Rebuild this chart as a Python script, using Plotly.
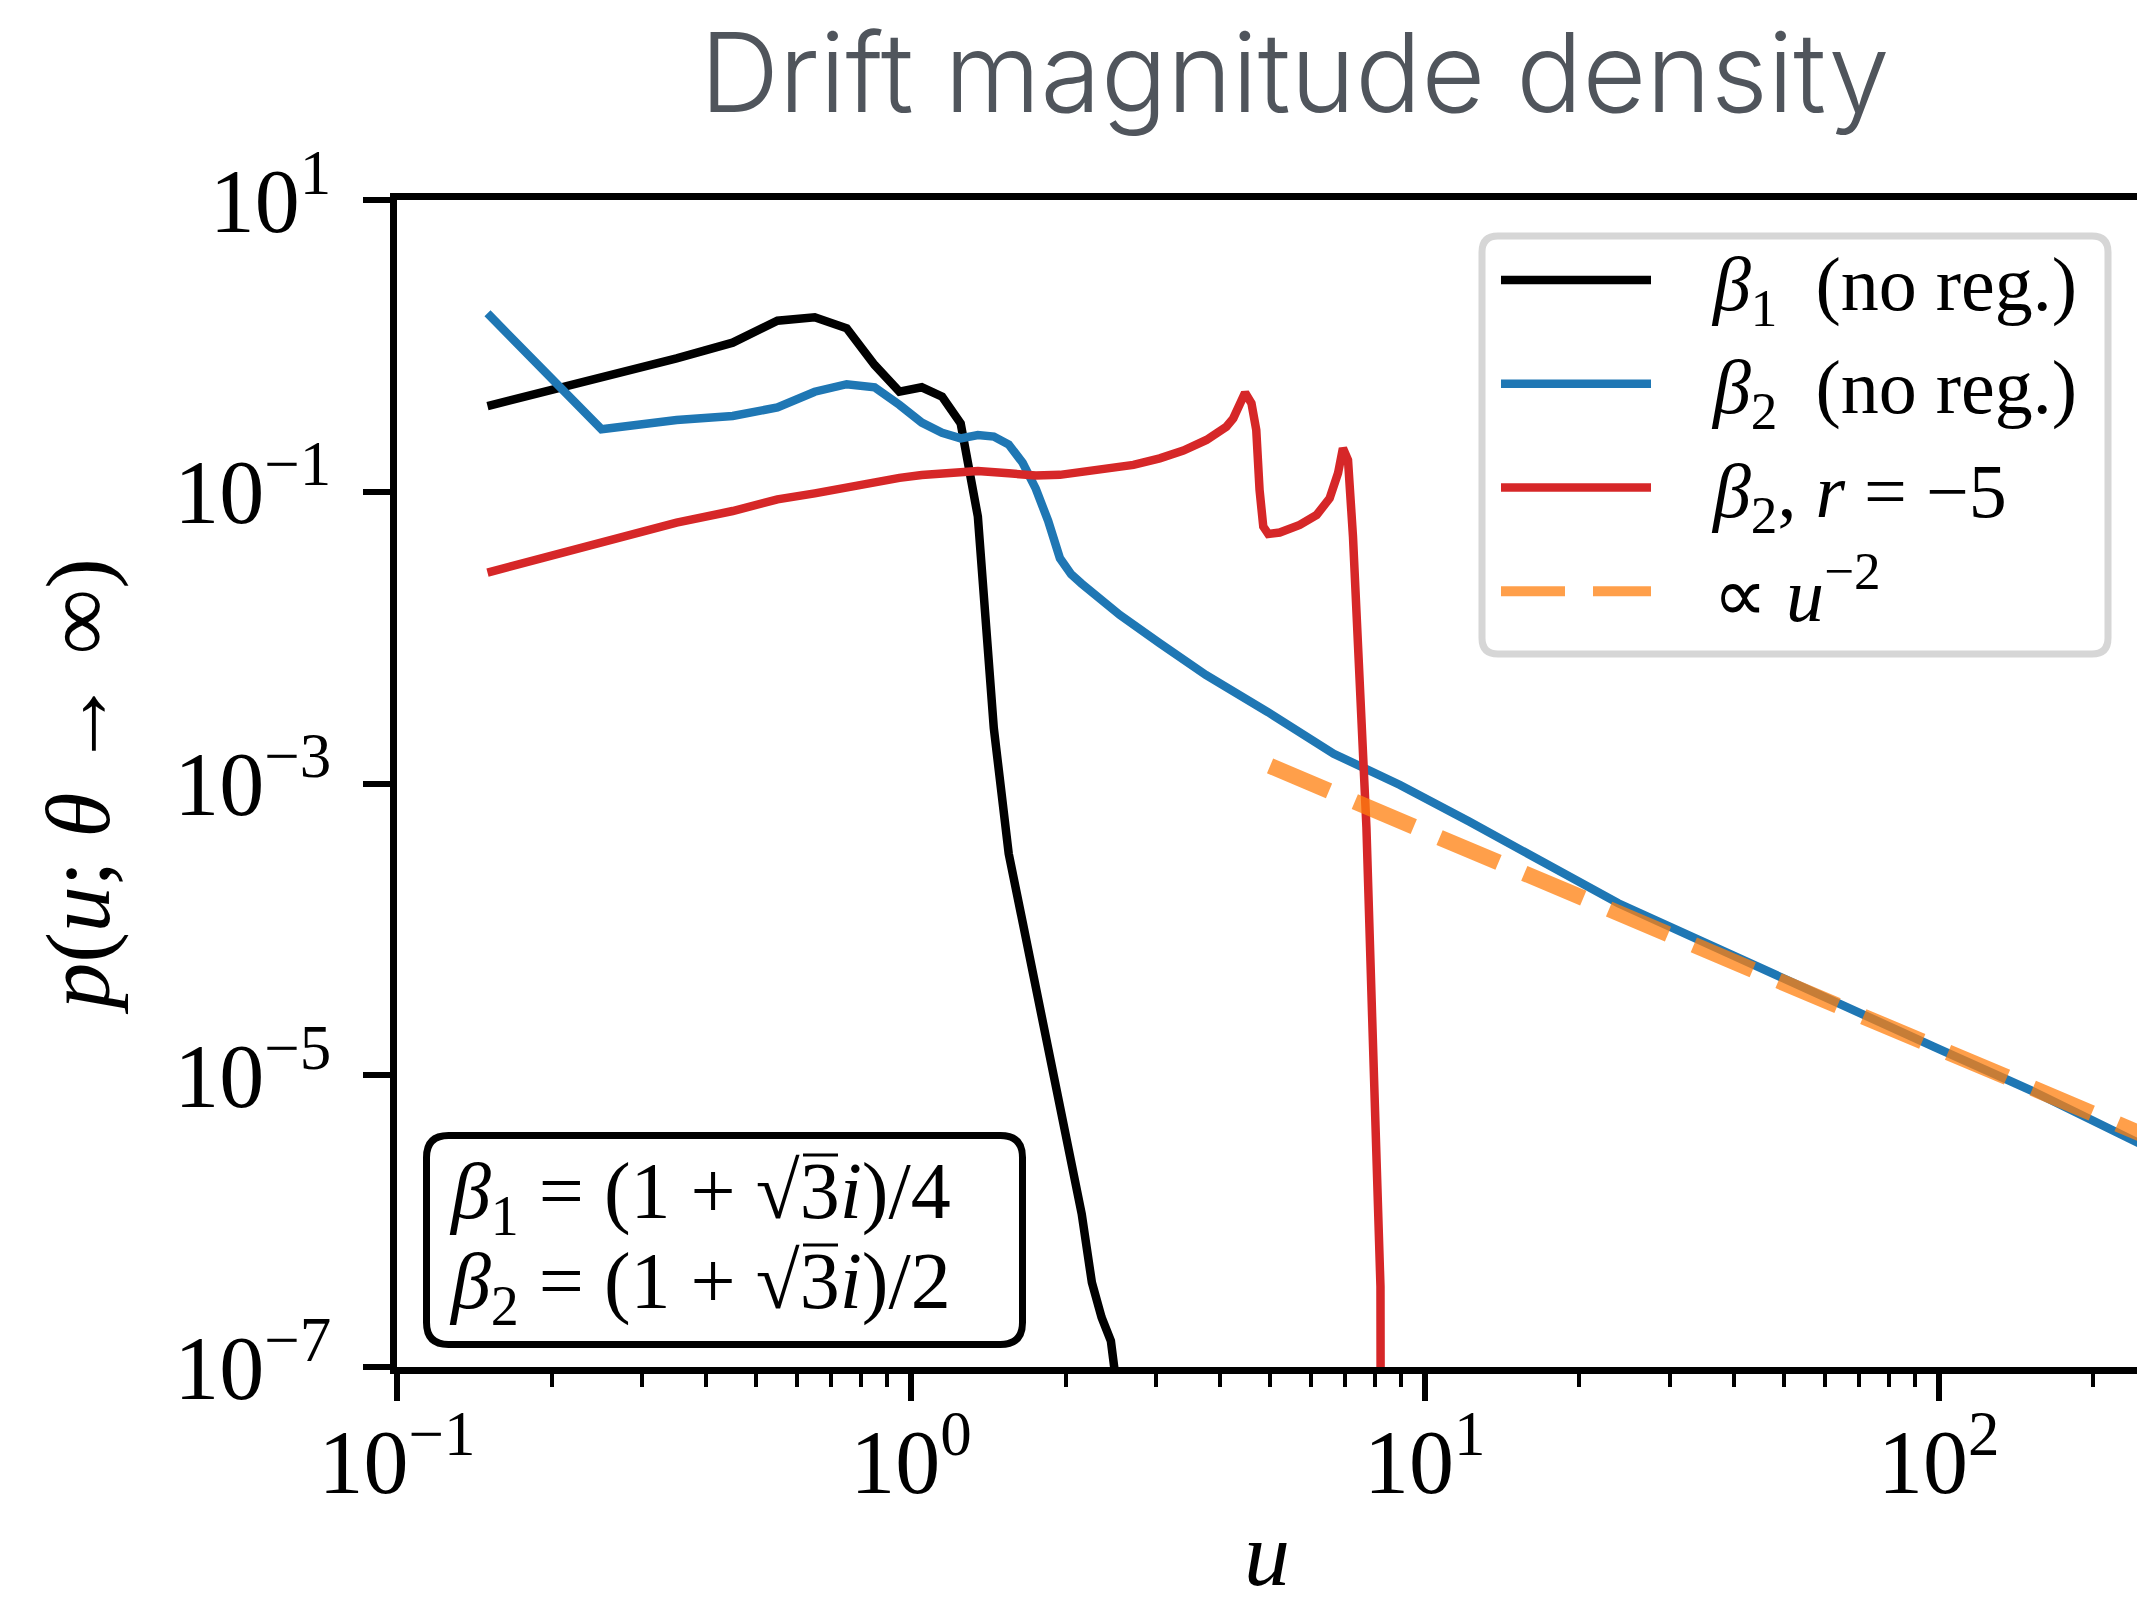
import plotly.graph_objects as go

# ---------------- data ----------------
u_black = [0.15, 0.25, 0.35, 0.45, 0.55, 0.65, 0.75, 0.85, 0.95, 1.05, 1.15, 1.25, 1.35,
           1.45, 1.55, 1.65, 1.75, 1.85, 1.95, 2.05, 2.15, 2.25, 2.35, 2.45, 2.55]
p_black = [0.387, 0.603, 0.822, 1.052, 1.489, 1.570, 1.321, 0.740, 0.485, 0.520, 0.449, 0.294, 0.0676,
           2.40e-3, 3.31e-4, 1.12e-4, 4.17e-5, 1.58e-5, 6.3e-6, 2.63e-6, 1.12e-6, 3.8e-7, 2.19e-7, 1.51e-7, 5.0e-8]

u_blue = [0.15, 0.25, 0.35, 0.45, 0.55, 0.65, 0.75, 0.85, 0.95, 1.05, 1.15, 1.25, 1.35, 1.45, 1.55,
          1.65, 1.75, 1.85, 1.95, 2.05, 2.15, 2.25, 2.55, 3.05, 3.75, 4.95, 6.65, 8.95, 12.2, 23.8,
          34.3, 44.0, 54.0, 69.4, 97.5, 152.6, 250.0]
p_blue = [1.671, 0.268, 0.310, 0.331, 0.378, 0.485, 0.546, 0.520, 0.394, 0.298, 0.254, 0.232, 0.245, 0.239, 0.211,
          0.158, 0.105, 0.063, 0.035, 0.0272, 0.0234, 0.0204, 0.0143, 9.14e-3, 5.55e-3, 3.09e-3, 1.60e-3, 9.77e-4, 5.48e-4, 1.51e-4,
          8.47e-5, 5.62e-5, 4.17e-5, 2.75e-5, 1.58e-5, 7.76e-6, 3.31e-6]

u_red = [0.15, 0.25, 0.35, 0.45, 0.55, 0.65, 0.75, 0.85, 0.95, 1.05, 1.15, 1.25, 1.35, 1.55, 1.75, 1.95,
         2.33, 2.71, 3.05, 3.39, 3.76, 4.11, 4.24, 4.37, 4.47, 4.60, 4.70, 4.77, 4.85, 4.96, 5.22, 5.71,
         6.16, 6.53, 6.78, 6.93, 7.09, 7.25, 7.47, 7.70, 7.90, 8.10, 8.20, 8.22]
p_red = [0.0279, 0.0452, 0.0614, 0.0738, 0.0887, 0.0975, 0.1074, 0.1172, 0.1245, 0.1303, 0.1340, 0.1368, 0.1387, 0.1337, 0.1294, 0.1306,
         0.1396, 0.1528, 0.1694, 0.1914, 0.2265, 0.2793, 0.3184, 0.4036, 0.4775, 0.4036, 0.2649, 0.1028, 0.0577, 0.0514, 0.0525, 0.0592,
         0.0693, 0.0902, 0.1340, 0.1986, 0.1652, 0.0492, 4.47e-3, 5.0e-4, 2.51e-5, 1.41e-6, 3.55e-7, 1e-9]

u_ref = [5.0, 250.0]
p_ref = [1.32e-3, 3.91e-6]

x_tickvals = [0.1, 1, 10, 100]
x_ticktext = ["10<sup>−1</sup>", "10<sup>0</sup>", "10<sup>1</sup>", "10<sup>2</sup>"]
x_minor = [0.2, 0.3, 0.4, 0.5, 0.6, 0.7, 0.8, 0.9, 2, 3, 4, 5, 6, 7, 8, 9,
           20, 30, 40, 50, 60, 70, 80, 90, 200]
y_tickvals = [1e-7, 1e-5, 1e-3, 1e-1, 1e1]
y_ticktext = ["10<sup>−7</sup>", "10<sup>−5</sup>", "10<sup>−3</sup>", "10<sup>−1</sup>", "10<sup>1</sup>"]

GAP = "\u00a0\u00a0\u00a0"
names = [GAP + "<i>β</i><sub>1</sub>\u00a0\u00a0(no reg.)",
         GAP + "<i>β</i><sub>2</sub>\u00a0\u00a0(no reg.)",
         GAP + "<i>β</i><sub>2</sub>, <i>r</i> = −5",
         GAP + "∝ <i>u</i><sup>−2</sup>"]

box_lines = ["<i>β</i><sub>1</sub> = (1 + √3<i>i</i>)/4",
             "<i>β</i><sub>2</sub> = (1 + √3<i>i</i>)/2"]

# ---------------- layout geometry ----------------
W, H = 2137, 1605
L, T, B, R = 397, 200, 238, 0
PW, PH = W - L - R, H - T - B
SERIF = "Liberation Serif"


def px(X):
    return (X - L) / PW


def py(Y):
    return (H - B - Y) / PH


def rrect(X0, Y0, X1, Y1, r):
    rx, ry = r / PW, r / PH
    x0, x1 = px(X0), px(X1)
    yb, yt = py(Y1), py(Y0)
    return (f"M{x0+rx},{yt} L{x1-rx},{yt} Q{x1},{yt} {x1},{yt-ry} "
            f"L{x1},{yb+ry} Q{x1},{yb} {x1-rx},{yb} L{x0+rx},{yb} "
            f"Q{x0},{yb} {x0},{yb+ry} L{x0},{yt-ry} Q{x0},{yt} {x0+rx},{yt} Z")


LW = 8.5
fig = go.Figure()
fig.add_trace(go.Scatter(x=u_black, y=p_black, mode="lines", name=names[0],
                         line=dict(color="black", width=LW), legendgroup="a"))
fig.add_trace(go.Scatter(x=u_blue, y=p_blue, mode="lines", name=names[1],
                         line=dict(color="#1f77b4", width=LW), legendgroup="b"))
fig.add_trace(go.Scatter(x=u_red, y=p_red, mode="lines", name=names[2],
                         line=dict(color="#d62728", width=LW), legendgroup="c"))
fig.add_trace(go.Scatter(x=u_ref, y=p_ref, mode="lines", name=names[3],
                         line=dict(color="rgba(255,127,14,0.75)", width=16, dash="64px,28px"),
                         legendgroup="d"))

axis_common = dict(showgrid=False, zeroline=False, showline=True, linecolor="black", linewidth=6.5,
                   ticks="outside", ticklen=27, tickwidth=6, tickcolor="black", automargin=False,
                   tickfont=dict(family=SERIF, size=90, color="black"))

fig.update_layout(
    width=W, height=H,
    margin=dict(l=L, r=R, t=T, b=B, pad=0, autoexpand=False),
    paper_bgcolor="white", plot_bgcolor="white",
    xaxis=dict(type="log", range=[-1, 2.386], mirror=True,
               tickmode="array", tickvals=x_tickvals, ticktext=x_ticktext, ticklabelstandoff=-16,
               minor=dict(ticks="outside", ticklen=13, tickwidth=4, tickcolor="black",
                          tickmode="array", tickvals=x_minor, showgrid=False),
               title=dict(text="<i>u</i>", font=dict(family=SERIF, size=92, color="black"), standoff=66),
               **axis_common),
    yaxis=dict(type="log", range=[-7, 1], mirror=False,
               tickmode="array", tickvals=y_tickvals, ticktext=y_ticktext, ticklabelstandoff=14,
               title=dict(text="<i>p</i>(<i>u</i>; <i>θ</i> → ∞)", font=dict(family=SERIF, size=92, color="black"),
                          standoff=37),
               **axis_common),
    legend=dict(x=px(1496), y=py(224), xanchor="left", yanchor="top",
                bgcolor="rgba(0,0,0,0)", borderwidth=0, itemwidth=150, tracegroupgap=2,
                font=dict(family=SERIF, size=76, color="black")),
    showlegend=True,
    shapes=[
        dict(type="path", xref="paper", yref="paper", path=rrect(1482, 236, 2108, 654, 16),
             line=dict(color="#d6d6d6", width=7), fillcolor="rgba(255,255,255,0.85)", layer="above"),
        dict(type="path", xref="paper", yref="paper", path=rrect(426.5, 1135.5, 1022.5, 1344.5, 22),
             line=dict(color="black", width=7), fillcolor="white", layer="above"),
        # vinculum of the square roots in the text box
        dict(type="line", xref="paper", yref="paper", x0=px(803), x1=px(838), y0=py(1155), y1=py(1155),
             line=dict(color="black", width=3), layer="above"),
        dict(type="line", xref="paper", yref="paper", x0=px(803), x1=px(838), y0=py(1245), y1=py(1245),
             line=dict(color="black", width=3), layer="above"),
    ],
    annotations=[
        dict(text="Drift magnitude density", xref="paper", yref="paper", x=px(1295), y=py(72),
             xanchor="center", yanchor="middle", showarrow=False,
             font=dict(family="Inter Light, Inter", size=110, color="#50555c", weight=300)),
        dict(text=box_lines[0], xref="paper", yref="paper", x=px(447), y=py(1197),
             xanchor="left", yanchor="middle", align="left", showarrow=False,
             font=dict(family=SERIF, size=80, color="black")),
        dict(text=box_lines[1], xref="paper", yref="paper", x=px(447), y=py(1287),
             xanchor="left", yanchor="middle", align="left", showarrow=False,
             font=dict(family=SERIF, size=80, color="black")),
    ],
)

fig.write_html("out.html")
